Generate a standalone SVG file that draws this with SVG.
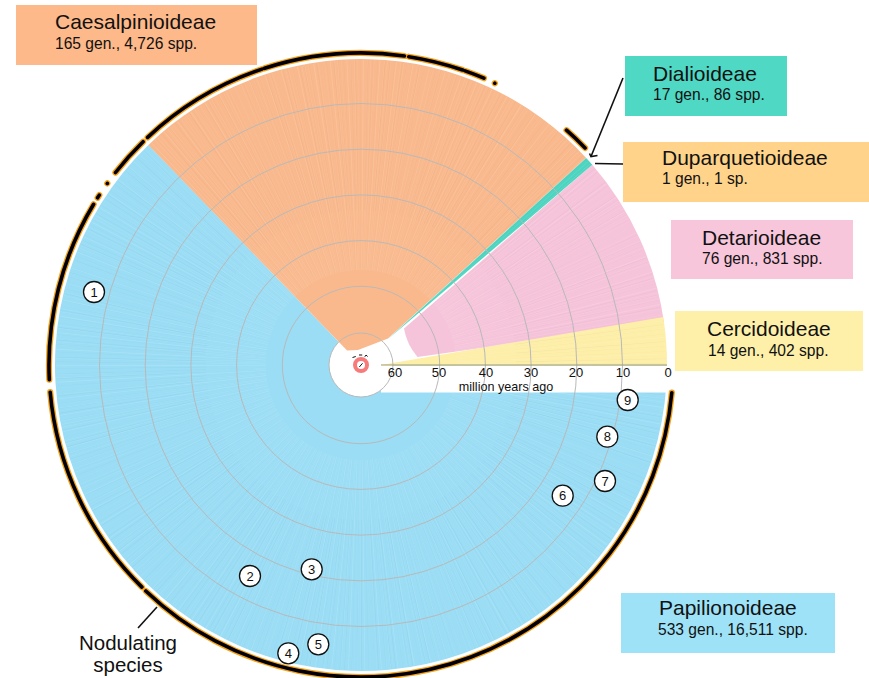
<svg xmlns="http://www.w3.org/2000/svg" width="869" height="678" viewBox="0 0 869 678">
<style>
text{font-family:"Liberation Sans",Arial,Helvetica,sans-serif;fill:#111}
.t{font-size:21px}
.s{font-size:15.6px}
.ax{font-size:13px;text-anchor:middle}
.num{font-size:13px;text-anchor:middle}
.grid{fill:none;stroke:#b9b9b9;stroke-width:1}
.ro{fill:none;stroke:#F3A11C;stroke-width:6.2;stroke-linecap:round}
.rb{fill:none;stroke:#000;stroke-width:3.6;stroke-linecap:round}
.bub{fill:#fff;stroke:#111;stroke-width:1.3}
.lead{fill:none;stroke:#111;stroke-width:1.6}
</style>
<defs>
<path id="ring" d="M671.8 392.7 A312 312 0 0 1 145.8 591.0 M141.9 587.1 A312 312 0 0 1 50.2 392.2 M49.3 379.7 A312 312 0 0 1 93.6 204.3 M97.6 197.8 A312 312 0 0 1 99.3 195.1 M107.3 183.4 l0.01 -0.01 M115.5 172.5 A312 312 0 0 1 143.1 141.7 M147.6 137.4 A312 312 0 0 1 262.0 69.1 M264.6 68.3 A312 312 0 0 1 404.4 56.0 M408.7 56.7 A312 312 0 0 1 462.6 70.0 M465.1 70.9 A312 312 0 0 1 483.9 78.2 M494.8 83.2 l0.01 0.01 M566.5 130.2 A312 312 0 0 1 585.1 147.9"/>
<clipPath id="fan"><circle cx="361" cy="365" r="306"/></clipPath>
</defs>
<rect width="869" height="678" fill="#fff"/>
<g id="fan-sectors">
<path id="papilionoideae-sector" d="M361 365 L148.4 144.9 A306 306 0 1 0 667 365 Z" fill="#9ADDF5"/>
<circle cx="361" cy="365" r="32" fill="#fff"/>
<path id="caesalpinioideae-sector" d="M347.1 350.6 L358 350 L388 338.5 L586.2 157.9 A306 306 0 0 0 148.4 144.9 Z" fill="#F9B98D"/>
<path id="detarioideae-sector" d="M417.5 356.9 L664 322.4 A306 306 0 0 0 592.3 164.7 L404 328.6 A57 57 0 0 0 417.5 356.9 Z" fill="#F6C4DA"/>
<path id="dialioideae-sector" d="M387.5 339.5 L592.3 164.7 A306 306 0 0 0 586.2 157.9 Z" fill="#4DD5C1"/>
<path id="cercidoideae-sector" d="M381 365 L667 365 A306 306 0 0 0 663.2 317.1 Z" fill="#FDEEA8"/>
<g clip-path="url(#fan)" fill="none">
<circle cx="361" cy="365" r="200" stroke="#fff" stroke-opacity="0.14" stroke-width="210" stroke-dasharray="0.5 1.9 0.3 3.1 0.9 2.3 0.4 1.5"/>
<circle cx="361" cy="365" r="230" stroke="#000" stroke-opacity="0.035" stroke-width="150" stroke-dasharray="0.4 3.7 0.3 5.1 0.6 2.9"/>
</g>
<rect x="381" y="365.5" width="292" height="27" fill="#fff"/>
</g>
<g id="time-grid">
<circle class="grid" cx="361" cy="365" r="78.7"/>
<circle class="grid" cx="361" cy="365" r="124.4"/>
<circle class="grid" cx="361" cy="365" r="170.1"/>
<circle class="grid" cx="361" cy="365" r="215.8"/>
<circle class="grid" cx="361" cy="365" r="261.5"/>
<circle class="grid" cx="361" cy="365" r="32" stroke="#c4c4c4" stroke-width="1.3"/>
</g>
<g id="root">
<circle cx="361" cy="365" r="6" fill="#fff" stroke="#F77B7B" stroke-width="4"/>
<path d="M359.3 367 L362.5 363.3 M352.5 357.5 L355.8 356.5 M359 355 L362.2 355 M364.8 356.8 L366 355 L367.6 356.5" fill="none" stroke="#111" stroke-width="1"/>
</g>
<g id="axis">
<line x1="381" y1="365" x2="667" y2="365" stroke="#A49A6A" stroke-width="1.2"/>
<text class="ax" x="395" y="376.5">60</text>
<text class="ax" x="439" y="376.5">50</text>
<text class="ax" x="486" y="376.5">40</text>
<text class="ax" x="531" y="376.5">30</text>
<text class="ax" x="576" y="376.5">20</text>
<text class="ax" x="623" y="376.5">10</text>
<text class="ax" x="668" y="376.5">0</text>
<text class="ax" x="506" y="390.8" style="font-size:12.6px">million years ago</text>
</g>
<g id="nodulating-ring">
<use href="#ring" class="ro"/>
<use href="#ring" class="rb"/>
</g>
<g id="connectors">
<path class="lead" d="M623 78 L591 156.5"/>
<path class="lead" d="M589.5 153.5 L591 156.5 L597.5 155.5" stroke-width="1.4"/>
<path class="lead" d="M595 163.5 L623 164"/>
<path class="lead" d="M157 607 L138 628"/>
</g>
<g id="markers">
<g id="m1"><circle class="bub" cx="94" cy="292" r="10.5"/><text class="num" x="94" y="296.7">1</text></g>
<g id="m2"><circle class="bub" cx="250" cy="576" r="10.5"/><text class="num" x="250" y="580.7">2</text></g>
<g id="m3"><circle class="bub" cx="311.7" cy="569.3" r="10.5"/><text class="num" x="311.7" y="574">3</text></g>
<g id="m4"><circle class="bub" cx="288.3" cy="653.3" r="10.5"/><text class="num" x="288.3" y="658">4</text></g>
<g id="m5"><circle class="bub" cx="318.3" cy="644.3" r="10.5"/><text class="num" x="318.3" y="649">5</text></g>
<g id="m6"><circle class="bub" cx="562.7" cy="495.7" r="10.5"/><text class="num" x="562.7" y="500.4">6</text></g>
<g id="m7"><circle class="bub" cx="605" cy="481" r="10.5"/><text class="num" x="605" y="485.7">7</text></g>
<g id="m8"><circle class="bub" cx="607.3" cy="436.7" r="10.5"/><text class="num" x="607.3" y="441.4">8</text></g>
<g id="m9"><circle class="bub" cx="627.7" cy="400" r="10.5"/><text class="num" x="627.7" y="404.7">9</text></g>
</g>
<g id="label-caesalpinioideae"><rect x="16" y="5" width="241" height="60" fill="#FDB98A"/><text class="t" x="55" y="29.3">Caesalpinioideae</text><text class="s" x="55" y="49.3">165 gen., 4,726 spp.</text></g>
<g id="label-dialioideae"><rect x="625" y="56" width="162" height="60" fill="#4FD8C4"/><text class="t" x="653" y="81">Dialioideae</text><text class="s" x="653" y="99.5">17 gen., 86 spp.</text></g>
<g id="label-duparquetioideae"><rect x="623" y="142" width="246" height="60" fill="#FFD38A"/><text class="t" x="662" y="165">Duparquetioideae</text><text class="s" x="662" y="184">1 gen., 1 sp.</text></g>
<g id="label-detarioideae"><rect x="671" y="220" width="182" height="59" fill="#F8C6DB"/><text class="t" x="702" y="245">Detarioideae</text><text class="s" x="702" y="264">76 gen., 831 spp.</text></g>
<g id="label-cercidoideae"><rect x="675" y="311" width="188" height="60" fill="#FEF0A8"/><text class="t" x="707" y="336">Cercidoideae</text><text class="s" x="708" y="356">14 gen., 402 spp.</text></g>
<g id="label-papilionoideae"><rect x="621" y="593" width="214" height="60" fill="#9EE2F8"/><text class="t" x="659" y="615">Papilionoideae</text><text class="s" x="658" y="635">533 gen., 16,511 spp.</text></g>
<g id="label-nodulating">
<text x="128" y="650" font-size="20.5" text-anchor="middle">Nodulating</text>
<text x="128" y="671.5" font-size="20.5" text-anchor="middle">species</text>
</g>
</svg>
